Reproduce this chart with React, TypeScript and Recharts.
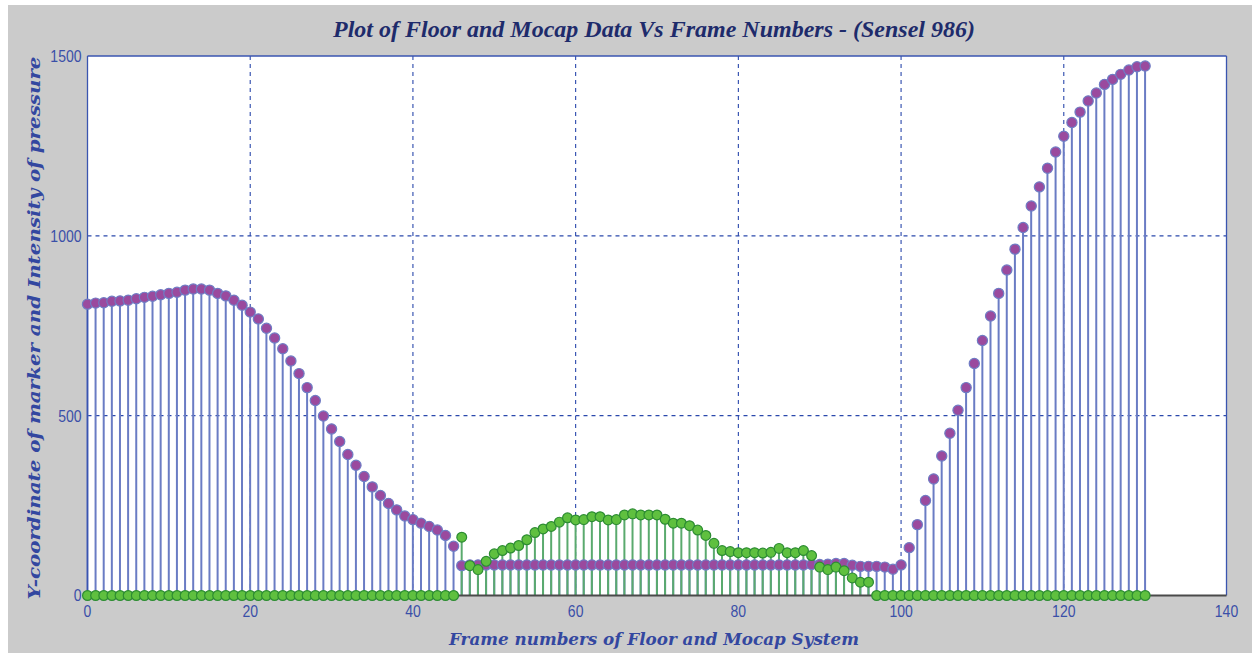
import React from 'react';
import { ComposedChart, Bar, Scatter, XAxis, YAxis, CartesianGrid, ReferenceLine } from 'recharts';

const mocap: number[] = [
  810, 813, 814, 818, 819, 821, 825, 829, 832, 836,
  840, 843, 849, 852, 852, 849, 840, 833, 821, 807,
  788, 769, 743, 716, 686, 652, 617, 578, 542, 499,
  463, 428, 392, 362, 331, 302, 278, 256, 238, 221,
  211, 201, 192, 182, 167, 137, 83, 85, 85, 85,
  85, 85, 85, 85, 85, 85, 85, 85, 85, 85,
  85, 85, 85, 85, 85, 85, 85, 85, 85, 85,
  85, 85, 85, 85, 85, 85, 85, 85, 85, 85,
  85, 85, 85, 85, 85, 85, 85, 85, 85, 86,
  86, 87, 89, 89, 84, 81, 81, 81, 79, 73,
  85, 133, 197, 264, 324, 388, 451, 515, 578, 645,
  709, 777, 840, 905, 963, 1023, 1083, 1136, 1188, 1233,
  1277, 1315, 1344, 1375, 1397, 1421, 1435, 1449, 1461, 1470, 1472,
];

const floor: number[] = [
  0, 0, 0, 0, 0, 0, 0, 0, 0, 0,
  0, 0, 0, 0, 0, 0, 0, 0, 0, 0,
  0, 0, 0, 0, 0, 0, 0, 0, 0, 0,
  0, 0, 0, 0, 0, 0, 0, 0, 0, 0,
  0, 0, 0, 0, 0, 0, 162, 83, 72, 95,
  116, 125, 132, 139, 155, 175, 185, 192, 204, 216,
  210, 211, 219, 219, 210, 211, 224, 227, 224, 224,
  224, 212, 201, 201, 194, 182, 167, 145, 125, 122,
  119, 119, 119, 118, 120, 131, 119, 119, 125, 111,
  79, 72, 79, 69, 49, 37, 37, 0, 0, 0,
  0, 0, 0, 0, 0, 0, 0, 0, 0, 0,
  0, 0, 0, 0, 0, 0, 0, 0, 0, 0,
  0, 0, 0, 0, 0, 0, 0, 0, 0, 0, 0,
];

const frames: number[] = mocap.map((_, i) => i);

const xTicks: number[] = [0, 20, 40, 60, 80, 100, 120, 140];
const yTicks: number[] = [0, 500, 1000, 1500];
const xGrid: number[] = [20, 40, 60, 80, 100, 120];
const yGrid: number[] = [500, 1000];

const title = 'Plot of Floor and Mocap Data Vs Frame Numbers - (Sensel 986)';
const xLabel = 'Frame numbers of Floor and Mocap System';
const yLabel = 'Y-coordinate of marker and Intensity of pressure';

const data = frames.map((f, i) => ({ frame: f, mocap: mocap[i], floor: floor[i] }));

const W = 1244;
const H = 648;
const TICK_COLOR = '#3a4fa8';
const GRID_COLOR = '#2a48ac';
const FRAME_COLOR = '#3a55b0';

const XTick = (props: any) => {
  const { x, y, payload } = props;
  return (
    <text
      transform={`translate(${x},${y + 15.5}) scale(1,1.2)`}
      textAnchor="middle"
      dominantBaseline="central"
      fontFamily="Liberation Sans, Arial, sans-serif"
      fontSize={14}
      fill={TICK_COLOR}
    >
      {payload.value}
    </text>
  );
};

const YTick = (props: any) => {
  const { x, y, payload } = props;
  return (
    <text
      transform={`translate(${x - 6},${y}) scale(1,1.2)`}
      textAnchor="end"
      dominantBaseline="central"
      fontFamily="Liberation Sans, Arial, sans-serif"
      fontSize={14}
      fill={TICK_COLOR}
    >
      {payload.value}
    </text>
  );
};

const PurpleDot = (props: any) => (
  <circle cx={props.cx} cy={props.cy} r={5.1} fill="#9a4a9e" stroke="#6f7cc4" strokeWidth={1.2} />
);

const GreenDot = (props: any) => (
  <circle cx={props.cx} cy={props.cy} r={4.9} fill="#5fc03f" stroke="#2c8c32" strokeWidth={1.2} />
);

export default function App() {
  return (
    <div
      style={{
        position: 'absolute',
        left: 8,
        top: 5,
        width: W,
        height: H,
        background: '#cbcbcb',
      }}
    >
      <ComposedChart
        width={W}
        height={H}
        data={data}
        margin={{ top: 51, right: 25.5, left: 39.5, bottom: 27.5 }}
      >
        <CartesianGrid
          xAxisId="a"
          stroke={GRID_COLOR}
          strokeDasharray="4 4"
          strokeWidth={1.1}
          fill="#ffffff"
          fillOpacity={1}
          verticalValues={xGrid}
          horizontalValues={yGrid}
        />
        <XAxis
          xAxisId="a"
          dataKey="frame"
          type="number"
          domain={[0, 140]}
          ticks={xTicks}
          height={30}
          tickSize={0}
          tickMargin={0}
          tickLine={false}
          axisLine={{ stroke: '#4a4a4a', strokeWidth: 2 }}
          tick={<XTick />}
          interval={0}
        />
        <XAxis
          xAxisId="b"
          dataKey="frame"
          type="number"
          domain={[0, 140]}
          ticks={xTicks}
          hide
        />
        <YAxis
          type="number"
          domain={[0, 1500]}
          ticks={yTicks}
          width={40}
          tickSize={0}
          tickMargin={0}
          tickLine={false}
          axisLine={{ stroke: FRAME_COLOR, strokeWidth: 1.3 }}
          tick={<YTick />}
          interval={0}
        />
        <ReferenceLine xAxisId="a" y={1500} stroke={FRAME_COLOR} strokeWidth={1.3} />
        <ReferenceLine xAxisId="a" x={140} stroke={FRAME_COLOR} strokeWidth={1.3} />
        <Bar xAxisId="a" dataKey="mocap" barSize={2} fill="#6a7cc4" isAnimationActive={false} />
        <Bar xAxisId="b" dataKey="floor" barSize={2} fill="#5aaa6e" isAnimationActive={false} />
        <Scatter xAxisId="a" dataKey="mocap" shape={<PurpleDot />} isAnimationActive={false} />
        <Scatter xAxisId="a" dataKey="floor" shape={<GreenDot />} isAnimationActive={false} />
      </ComposedChart>
      <svg
        width={W}
        height={H}
        style={{ position: 'absolute', left: 0, top: 0, pointerEvents: 'none' }}
      >
        <text
          x={646}
          y={32}
          textAnchor="middle"
          fontFamily="Liberation Serif, Times New Roman, serif"
          fontWeight="bold"
          fontStyle="italic"
          fontSize={23}
          fill="#1e2b6b"
          textLength={642}
          lengthAdjust="spacingAndGlyphs"
        >
          {title}
        </text>
        <text
          x={646}
          y={640}
          textAnchor="middle"
          fontFamily="DejaVu Serif, serif"
          fontWeight="bold"
          fontStyle="italic"
          fontSize={17}
          fill="#3347a0"
          textLength={410}
          lengthAdjust="spacingAndGlyphs"
        >
          {xLabel}
        </text>
        <text
          transform="translate(31.5,323) rotate(-90)"
          x={0}
          y={0}
          textAnchor="middle"
          fontFamily="DejaVu Serif, serif"
          fontWeight="bold"
          fontStyle="italic"
          fontSize={17}
          fill="#3347a0"
          textLength={543}
          lengthAdjust="spacingAndGlyphs"
        >
          {yLabel}
        </text>
      </svg>
    </div>
  );
}
